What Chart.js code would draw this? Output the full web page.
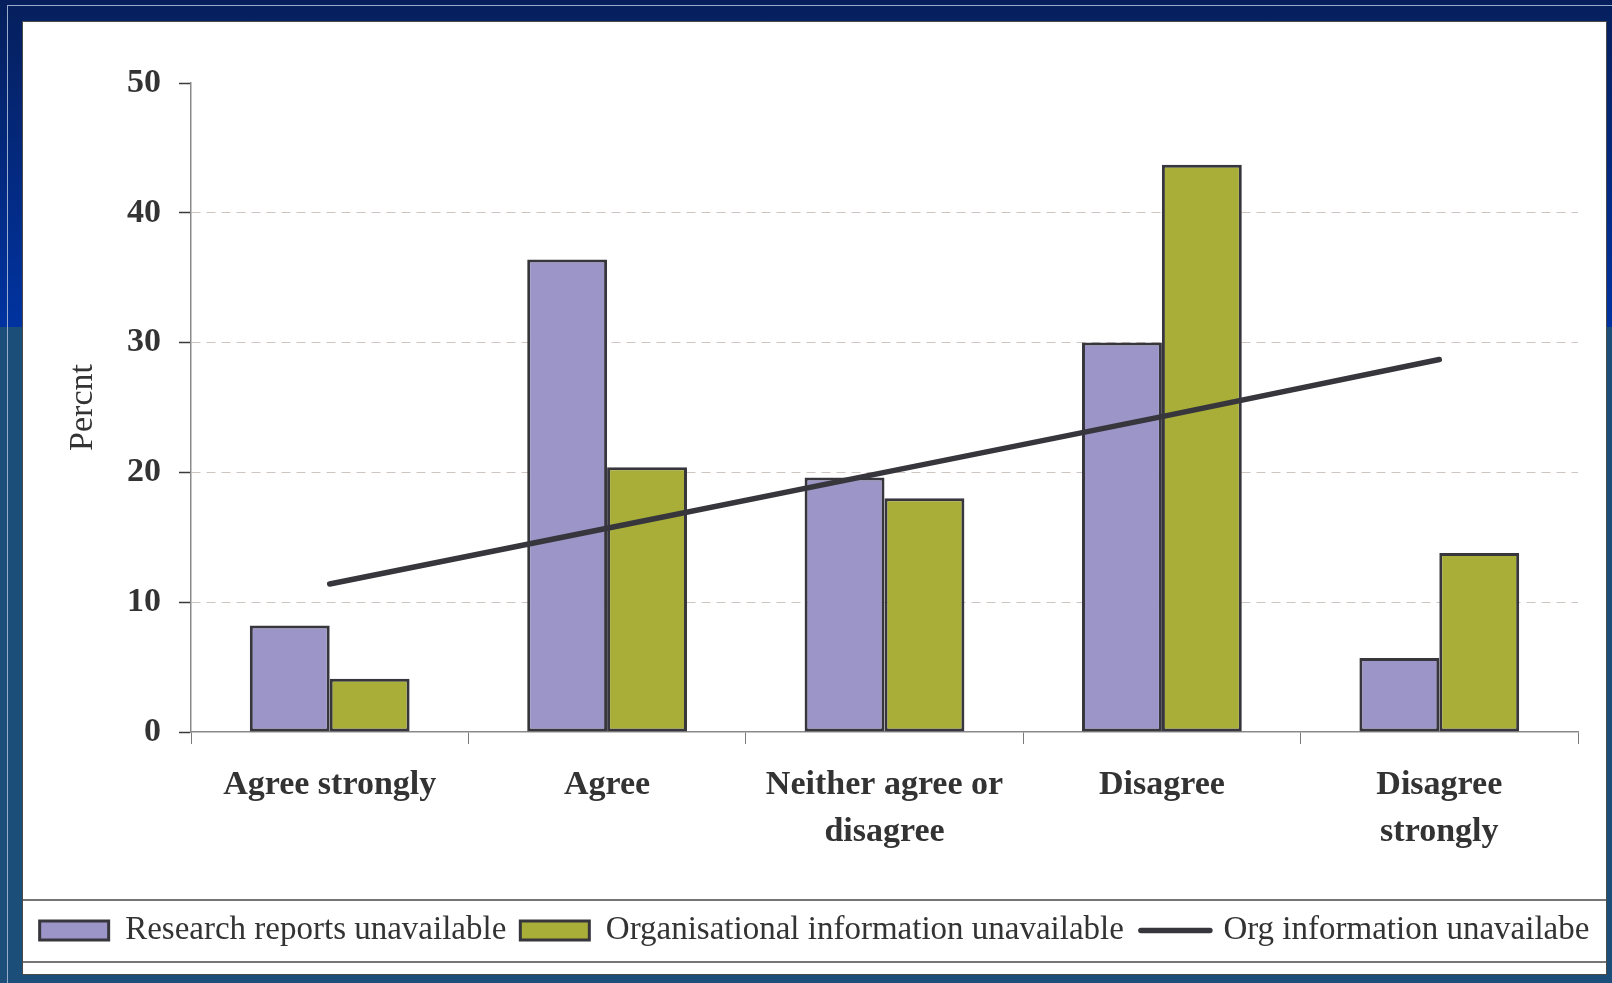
<!DOCTYPE html>
<html>
<head>
<meta charset="utf-8">
<script src="https://cdn.jsdelivr.net/npm/chart.js@4.4.1/dist/chart.umd.min.js"></script>
<style>
  html, body {
    margin: 0;
    padding: 0;
  }
  body {
    width: 1612px;
    height: 983px;
    overflow: hidden;
    position: relative;
    background: linear-gradient(to bottom, #061f5c 0px, #0033a0 327px, #1b4e78 327px, #1b4e78 100%);
  }
  .rule-h {
    position: absolute;
    left: 7px;
    right: 0;
    top: 5px;
    height: 1px;
    background: #9aaccc;
  }
  .rule-v {
    position: absolute;
    left: 7px;
    top: 5px;
    bottom: 0;
    width: 1px;
    background: #9aaccc;
  }
  #panel {
    position: absolute;
    left: 22px;
    top: 21px;
    width: 1585px;
    height: 954px;
    box-sizing: border-box;
    background: #fff;
    border: 1px solid #4a4a4a;
  }
  #wrap {
    position: relative;
    width: 1583px;
    height: 952px;
  }
</style>
</head>
<body>
<div class="rule-h"></div>
<div class="rule-v"></div>
<div id="panel">
  <div id="wrap"><canvas id="surveyChart"></canvas></div>
</div>
<script>
const categories = ['Agree strongly', 'Agree', ['Neither agree or', 'disagree'], 'Disagree', ['Disagree', 'strongly']];
const researchReports = [8.2, 36.4, 19.6, 30.0, 5.7];
const orgInformation = [4.1, 20.4, 18.0, 43.7, 13.8];
const orgTrend = [11.4, 15.7, 20.0, 24.3, 28.7];
const yMin = 0;
const yMax = 50;
const yStep = 10;

const serif = "'Liberation Serif', 'Times New Roman', serif";
const inkColor = '#333333';
const edgeColor = '#38363d';

// the frame lines above and below the legend, plus the line sample
const legendFrame = {
  id: 'legendFrame',
  afterDraw(chart) {
    const legend = chart.legend;
    const ctx = chart.ctx;
    const top = legend.top;
    ctx.save();
    ctx.strokeStyle = '#4a4a4a';
    ctx.lineWidth = 1.5;
    ctx.beginPath();
    ctx.moveTo(0, top);
    ctx.lineTo(chart.width, top);
    ctx.moveTo(0, top + 62);
    ctx.lineTo(chart.width, top + 62);
    ctx.stroke();

    const hb = legend.legendHitBoxes[2];
    if (hb) {
      const y = hb.top + hb.height / 2;
      ctx.strokeStyle = edgeColor;
      ctx.lineWidth = 5.5;
      ctx.lineCap = 'round';
      ctx.beginPath();
      ctx.moveTo(hb.left + 3, y);
      ctx.lineTo(hb.left + 72, y);
      ctx.stroke();
    }
    ctx.restore();
  }
};

const data = {
  labels: categories,
  datasets: [
    {
      label: 'Research reports unavailable',
      data: researchReports,
      backgroundColor: '#9b95c8',
      borderColor: edgeColor,
      borderWidth: 3,
      borderSkipped: false,
      categoryPercentage: 0.576,
      barPercentage: 1.0,
      order: 1
    },
    {
      label: 'Organisational information unavailable',
      data: orgInformation,
      backgroundColor: '#a8ae38',
      borderColor: edgeColor,
      borderWidth: 3,
      borderSkipped: false,
      categoryPercentage: 0.576,
      barPercentage: 1.0,
      order: 2
    },
    {
      type: 'line',
      label: 'Org information unavailabe',
      data: orgTrend,
      borderColor: edgeColor,
      backgroundColor: edgeColor,
      borderWidth: 5.5,
      borderCapStyle: 'round',
      pointRadius: 0,
      tension: 0,
      order: 0
    }
  ]
};

const config = {
  type: 'bar',
  data: data,
  options: {
    responsive: true,
    maintainAspectRatio: false,
    animation: false,
    layout: {
      padding: { left: 0, top: 61, right: 0, bottom: 17 }
    },
    plugins: {
      title: { display: false },
      tooltip: { enabled: false },
      legend: {
        display: true,
        position: 'bottom',
        labels: {
          color: inkColor,
          boxWidth: 69,
          boxHeight: 19,
          padding: 14,
          font: { family: serif, size: 33 },
          sort: (a, b) => a.datasetIndex - b.datasetIndex,
          generateLabels(chart) {
            const items = Chart.defaults.plugins.legend.labels.generateLabels(chart);
            items.forEach(item => {
              if (item.datasetIndex === 2) {
                item.fillStyle = 'rgba(0,0,0,0)';
                item.strokeStyle = 'rgba(0,0,0,0)';
                item.lineWidth = 0;
              }
            });
            return items;
          }
        }
      }
    },
    scales: {
      x: {
        afterFit(scale) {
          scale.height = 168;
        },
        grid: {
          display: true,
          drawOnChartArea: false,
          drawTicks: true,
          tickLength: 12,
          tickColor: '#7a7a7a',
          offset: true
        },
        border: {
          display: true,
          color: '#8a8a8a',
          width: 1.5
        },
        ticks: {
          color: inkColor,
          padding: 18,
          maxRotation: 0,
          autoSkip: false,
          font: { family: serif, size: 34, weight: 'bold', lineHeight: 1.38 }
        }
      },
      y: {
        min: yMin,
        max: yMax,
        afterFit(scale) {
          scale.width = 168;
        },
        grid: {
          display: true,
          drawOnChartArea: true,
          color: (ctx) => (ctx.tick && (ctx.tick.value === yMin || ctx.tick.value === yMax)) ? 'rgba(0,0,0,0)' : '#cec5c1',
          lineWidth: 1,
          tickLength: 12,
          tickColor: '#3a3a3a',
          tickWidth: 1.5
        },
        border: {
          display: true,
          color: '#8a8a8a',
          width: 1.5,
          dash: [9, 6]
        },
        ticks: {
          stepSize: yStep,
          color: inkColor,
          padding: 18,
          font: { family: serif, size: 34, weight: 'bold' }
        },
        title: {
          display: true,
          text: 'Percnt',
          color: inkColor,
          padding: { top: 40, bottom: 0 },
          font: { family: serif, size: 34 }
        }
      },
      // empty strip on the right so the plot ends short of the panel edge
      gutter: {
        type: 'linear',
        position: 'right',
        display: true,
        afterFit(scale) {
          scale.width = 28;
        },
        grid: { display: false, drawTicks: false },
        border: { display: false },
        ticks: { display: false }
      }
    }
  },
  plugins: [legendFrame]
};

const ctx = document.getElementById('surveyChart').getContext('2d');
new Chart(ctx, config);
</script>
</body>
</html>
